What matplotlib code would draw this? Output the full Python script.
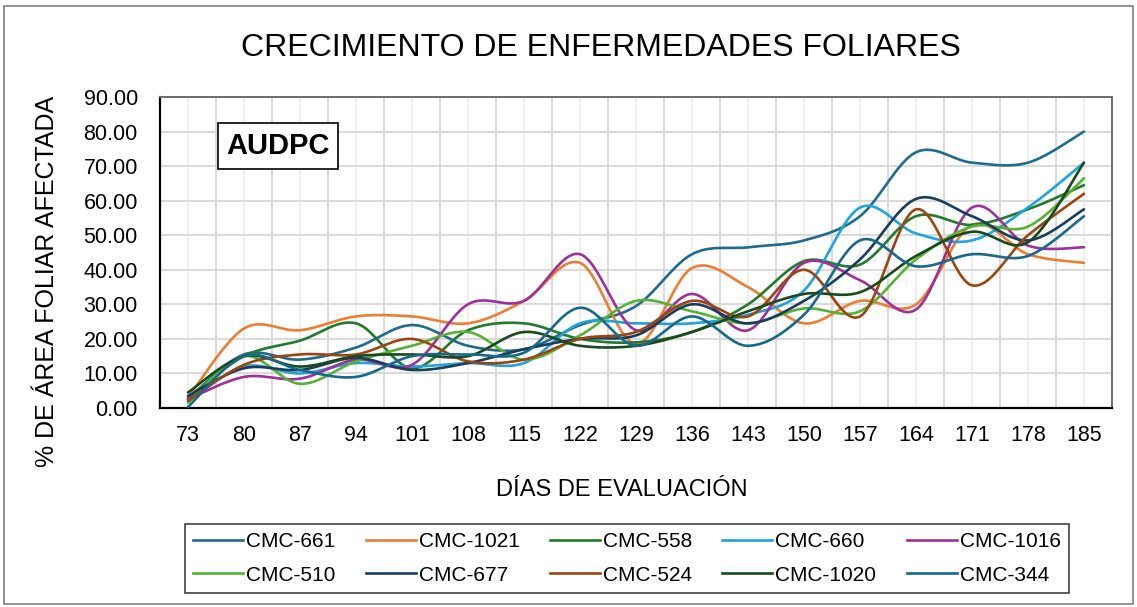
# Crecimiento de enfermedades foliares (AUDPC)
import numpy as np
import matplotlib.pyplot as plt
from matplotlib.lines import Line2D
from matplotlib.patches import Rectangle

plt.rcParams['font.family'] = ['Liberation Sans', 'DejaVu Sans']

# ----------------------------------
# Data
# ----------------------------------
dias = [73, 80, 87, 94, 101, 108, 115, 122, 129, 136, 143, 150, 157, 164, 171, 178, 185]

cmc_661 = [2.5, 15.5, 14, 17.5, 24, 18, 17, 24, 29.5, 44.5, 46.5, 48.5, 55.5, 74, 71, 71, 80]
cmc_1021 = [3, 23, 22.5, 26.5, 26.5, 24.5, 31, 42, 18.5, 40.5, 35, 24.5, 31, 30, 53, 44.5, 42]
cmc_558 = [3, 15, 19.5, 24.5, 11.5, 22.5, 24.5, 20, 19, 22, 30, 42.5, 41.5, 55.5, 53, 57.5, 64.5]
cmc_660 = [2, 12, 10, 13, 12, 13, 13, 24.5, 24.5, 24.5, 27, 34, 58, 50.5, 48.5, 58, 71]
cmc_1016 = [2.5, 9, 8.5, 14, 12.5, 30, 31, 44.5, 22.5, 33, 22.5, 42, 37, 28.5, 58, 47, 46.5]
cmc_510 = [1.5, 15, 7, 13.5, 18, 22, 14, 21, 31, 28, 24.5, 28.8, 28, 43, 52.5, 52.5, 66.5]
cmc_677 = [3.5, 11.5, 11, 14.5, 11, 13, 17, 20, 21, 30, 24.5, 31, 43, 60.5, 55.5, 48.5, 57.5]
cmc_524 = [2, 12.5, 15.5, 15.5, 20, 13.5, 14, 20, 22, 31, 26.5, 40, 26.5, 57.5, 35.5, 50, 62]
cmc_1020 = [4.5, 15, 12, 15, 15.5, 15, 22, 18, 18, 22, 28, 33, 33.5, 44, 51, 48, 71]
cmc_344 = [0.3, 15, 11, 9, 15, 15.5, 16, 29, 18, 26.5, 18, 27, 48.5, 41, 44.5, 44, 55.5]

series = {
    "CMC-661": (cmc_661, "#1f6b8e"),
    "CMC-1021": (cmc_1021, "#ed7d31"),
    "CMC-558": (cmc_558, "#217a2e"),
    "CMC-660": (cmc_660, "#1fa3dc"),
    "CMC-1016": (cmc_1016, "#9e2f9c"),
    "CMC-510": (cmc_510, "#56b234"),
    "CMC-677": (cmc_677, "#183e5c"),
    "CMC-524": (cmc_524, "#9c4510"),
    "CMC-1020": (cmc_1020, "#184a1c"),
    "CMC-344": (cmc_344, "#16698a"),
}


def smooth(y, n=30):
    # Excel-like smoothed line (cubic Bezier through every point)
    y = np.asarray(y, dtype=float)
    x = np.arange(len(y), dtype=float)
    p = np.column_stack([x, y])
    p = np.vstack([p[0], p, p[-1]])
    t = np.linspace(0, 1, n)[:, None]
    out = []
    for i in range(1, len(p) - 2):
        p0, p1, p2, p3 = p[i - 1], p[i], p[i + 1], p[i + 2]
        c1 = p1 + (p2 - p0) / 6
        c2 = p2 - (p3 - p1) / 6
        seg = ((1 - t) ** 3) * p1 + 3 * ((1 - t) ** 2) * t * c1 + 3 * (1 - t) * t ** 2 * c2 + t ** 3 * p2
        out.append(seg)
    out = np.vstack(out)
    return out[:, 0], out[:, 1]


# ----------------------------------
# Figure
# ----------------------------------
fig = plt.figure(figsize=(11.37, 6.07), dpi=100)
ax = fig.add_axes([160 / 1137, 1 - 408 / 607, (1112 - 160) / 1137, (408 - 97) / 607])

handles = {}
for name, (vals, color) in series.items():
    xs, ys = smooth(vals)
    ax.plot(xs, ys, color=color, lw=1.9, solid_capstyle="round", zorder=3)
    handles[name] = Line2D([], [], color=color, lw=1.9)

ax.set_xlim(-0.5, len(dias) - 0.5)
ax.set_ylim(0, 90)
ax.set_xticks(range(len(dias)))
ax.set_xticklabels([str(d) for d in dias])
ax.set_xticks(np.arange(-0.5, len(dias), 1), minor=True)
ax.set_yticks(np.arange(0, 91, 10))
ax.set_yticklabels([f"{v:.2f}" for v in np.arange(0, 91, 10)])

# gridlines: light at categories, darker at boundaries
ax.grid(axis="y", color="#d9d9d9", lw=1.4, zorder=0)
ax.grid(axis="x", which="major", color="#efefef", lw=1.4, zorder=0)
ax.grid(axis="x", which="minor", color="#d9d9d9", lw=1.4, zorder=0)
ax.set_axisbelow(True)

ax.tick_params(axis="both", which="both", length=0, labelsize=15.5)
ax.tick_params(axis="x", pad=12)
ax.tick_params(axis="y", pad=16)

for s in ["left", "bottom"]:
    ax.spines[s].set_color("black")
    ax.spines[s].set_linewidth(1.6)
for s in ["top", "right"]:
    ax.spines[s].set_color("#6b6b6b")
    ax.spines[s].set_linewidth(1.4)

# titles
fig.text(601 / 1137, 1 - 48 / 607, "CRECIMIENTO DE ENFERMEDADES FOLIARES",
         ha="center", va="center", fontsize=23)
fig.text(47 / 1137, 1 - 281 / 607, "% DE ÁREA FOLIAR AFECTADA",
         ha="center", va="center", rotation=90, fontsize=18)
fig.text(622 / 1137, 1 - 490 / 607, "DÍAS DE EVALUACIÓN",
         ha="center", va="center", fontsize=17)

# AUDPC box
fig.text(278 / 1137, 1 - 146 / 607, "AUDPC", ha="center", va="center",
         fontsize=21, fontweight="bold",
         bbox=dict(boxstyle="square,pad=0.3", fc="white", ec="black", lw=1.2))

# legend (row order as in the reference)
order = ["CMC-661", "CMC-510", "CMC-1021", "CMC-677", "CMC-558",
         "CMC-524", "CMC-660", "CMC-1020", "CMC-1016", "CMC-344"]
leg = fig.legend([handles[k] for k in order], order, ncol=5,
                 loc="lower left", mode="expand",
                 bbox_to_anchor=(185 / 1137, 1 - 593 / 607, (1069 - 185) / 1137, (593 - 515) / 607),
                 fontsize=15, handlelength=2.4, handletextpad=0.15,
                 labelspacing=0.7, borderaxespad=0, fancybox=False,
                 frameon=True, edgecolor="black", borderpad=0.4)
leg.get_frame().set_linewidth(1.1)

# outer chart border
fig.patches.append(Rectangle((4 / 1137, 3 / 607), 1129 / 1137, 598 / 607,
                             transform=fig.transFigure, fill=False,
                             ec="#7f7f7f", lw=1.2))

plt.savefig("out.png", dpi=100)
